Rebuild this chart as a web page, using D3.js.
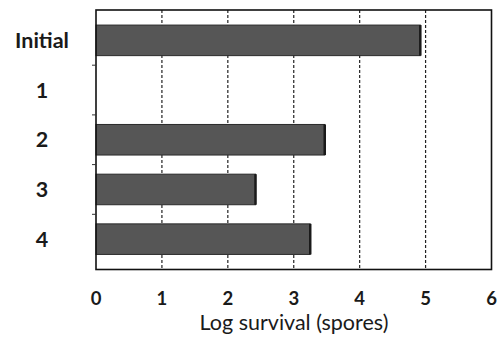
<!DOCTYPE html>
<html>
<head>
<meta charset="utf-8">
<script src="https://cdn.jsdelivr.net/npm/d3@7"></script>
<style>
  html, body { margin: 0; padding: 0; background: #fff; }
  svg { display: block; }
</style>
</head>
<body>
<svg id="chart" width="499" height="342"></svg>
<script>
// Survival per treatment (log spores)
const categories = ["Initial", "1", "2", "3", "4"];
const logSurvival = [4.92, null, 3.47, 2.42, 3.25];
const xTicks = [0, 1, 2, 3, 4, 5, 6];
const xTitle = "Log survival (spores)";

const W = 499, H = 342;
const plot = { left: 96, right: 491.5, top: 10, bottom: 269.5 };

const svg = d3.select("#chart");

const x = d3.scaleLinear().domain([0, 6]).range([plot.left, plot.right]);
const y = d3.scaleBand()
  .domain(categories)
  .range([plot.top + 5.5, plot.bottom - 5.5])
  .paddingInner(0.385)
  .paddingOuter(0.1925);

// vertical dashed gridlines
svg.append("g")
  .selectAll("line")
  .data(xTicks.filter(d => d > 0 && d < 6))
  .join("line")
  .attr("x1", d => x(d)).attr("x2", d => x(d))
  .attr("y1", plot.top).attr("y2", plot.bottom)
  .attr("stroke", "#222")
  .attr("stroke-width", 1.2)
  .attr("stroke-dasharray", "3,2");

// bars
const data = categories.map((c, i) => ({ c, v: logSurvival[i] })).filter(d => d.v != null);
svg.append("g")
  .selectAll("rect")
  .data(data)
  .join("rect")
  .attr("x", x(0))
  .attr("y", d => y(d.c))
  .attr("width", d => x(d.v) - x(0))
  .attr("height", y.bandwidth())
  .attr("fill", "#565656")
  .attr("stroke", "#2a2a2a")
  .attr("stroke-width", 1);

// darker right edge of bars
svg.append("g")
  .selectAll("line")
  .data(data)
  .join("line")
  .attr("x1", d => x(d.v)).attr("x2", d => x(d.v))
  .attr("y1", d => y(d.c)).attr("y2", d => y(d.c) + y.bandwidth())
  .attr("stroke", "#1a1a1a")
  .attr("stroke-width", 2.5);

// plot frame
svg.append("rect")
  .attr("x", plot.left).attr("y", plot.top)
  .attr("width", plot.right - plot.left)
  .attr("height", plot.bottom - plot.top)
  .attr("fill", "none")
  .attr("stroke", "#111")
  .attr("stroke-width", 1.6);

// category axis: small ticks between categories
const step = y.step();
const boundaries = categories.slice(1).map(c => y(c) - step * y.paddingInner() / 2);
svg.append("g")
  .selectAll("line")
  .data(boundaries)
  .join("line")
  .attr("x1", plot.left - 4).attr("x2", plot.left)
  .attr("y1", d => d).attr("y2", d => d)
  .attr("stroke", "#333")
  .attr("stroke-width", 1);

svg.append("g")
  .selectAll("text")
  .data(categories)
  .join("text")
  .attr("x", 42)
  .attr("y", d => y(d) + y.bandwidth() / 2)
  .attr("dy", "0.36em")
  .attr("text-anchor", "middle")
  .attr("font-family", "Lato, 'Open Sans', sans-serif")
  .attr("font-weight", "bold")
  .attr("font-size", 21.5)
  .attr("fill", "#1a1a1a")
  .text(d => d);

// value axis labels
svg.append("g")
  .selectAll("text")
  .data(xTicks)
  .join("text")
  .attr("x", d => x(d))
  .attr("y", 305)
  .attr("text-anchor", "middle")
  .attr("font-family", "Lato, 'Open Sans', sans-serif")
  .attr("font-weight", "bold")
  .attr("font-size", 18.5)
  .attr("fill", "#1a1a1a")
  .text(d => d);

svg.append("text")
  .attr("x", 294)
  .attr("y", 330)
  .attr("text-anchor", "middle")
  .attr("font-family", "Lato, 'Open Sans', sans-serif")
  .attr("font-size", 21.5)
  .attr("fill", "#1a1a1a")
  .text(xTitle);
</script>
</body>
</html>
